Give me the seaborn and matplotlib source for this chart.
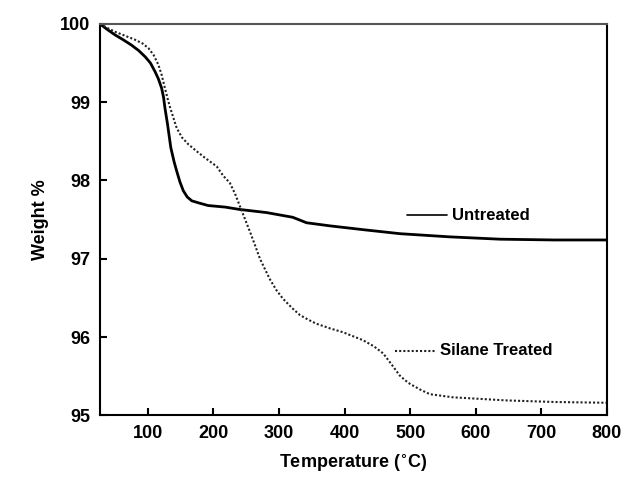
import matplotlib
matplotlib.use("Agg")
import matplotlib.pyplot as plt
import seaborn as sns
import pandas as pd

# Untreated sample (temperature °C, weight %)
untreated_temp = [27, 38, 50, 62, 75, 86, 96, 104, 111, 116, 121, 124, 126, 130, 135, 140, 144, 149, 154, 160, 167, 179, 192, 218, 240, 281, 321, 342, 378, 430, 485, 560, 637, 720, 800]
untreated_wt = [100.0, 99.93, 99.86, 99.8, 99.73, 99.66, 99.58, 99.5, 99.39, 99.3, 99.18, 99.06, 98.93, 98.72, 98.42, 98.24, 98.12, 97.98, 97.87, 97.79, 97.74, 97.71, 97.68, 97.66, 97.63, 97.59, 97.53, 97.46, 97.42, 97.37, 97.32, 97.28, 97.25, 97.24, 97.24]

# Silane treated sample
silane_temp = [27, 38, 50, 65, 80, 92, 101, 109, 116, 121, 126, 130, 134, 139, 144, 152, 162, 175, 187, 205, 215, 225, 233, 240, 248, 256, 264, 271, 279, 286, 296, 306, 320, 332, 345, 357, 378, 398, 428, 445, 459, 469, 477, 484, 492, 500, 515, 530, 565, 606, 647, 720, 800]
silane_wt = [100.0, 99.95, 99.9, 99.85, 99.8, 99.75, 99.69, 99.6, 99.48, 99.35, 99.18, 99.05, 98.93, 98.8, 98.67, 98.55, 98.46, 98.37, 98.29, 98.18, 98.06, 97.97, 97.83, 97.68, 97.51, 97.34, 97.16, 97.0, 96.86, 96.74, 96.6, 96.49, 96.37, 96.28, 96.22, 96.17, 96.11, 96.06, 95.96, 95.88, 95.79, 95.68, 95.59, 95.51, 95.45, 95.4, 95.33, 95.27, 95.23, 95.21, 95.19, 95.17, 95.16]

x_ticks = [100, 200, 300, 400, 500, 600, 700, 800]
y_ticks = [95, 96, 97, 98, 99, 100]

sns.set_theme(style="white")
plt.rcParams['font.family'] = ['Liberation Sans', 'DejaVu Sans']
plt.rcParams['font.weight'] = 'bold'
plt.rcParams['text.color'] = 'black'
plt.rcParams['axes.labelcolor'] = 'black'
plt.rcParams['xtick.color'] = 'black'
plt.rcParams['ytick.color'] = 'black'

df_u = pd.DataFrame({"Temperature": untreated_temp, "Weight": untreated_wt})
df_s = pd.DataFrame({"Temperature": silane_temp, "Weight": silane_wt})

fig = plt.figure(figsize=(6.23, 4.79), dpi=100)
ax = fig.add_axes([0.1605, 0.133, 0.8135, 0.817])

sns.lineplot(data=df_u, x="Temperature", y="Weight", ax=ax, color="black", linewidth=2.0, estimator=None, sort=True)
sns.lineplot(data=df_s, x="Temperature", y="Weight", ax=ax, color="#222222", linewidth=1.5, linestyle=(0, (1, 1.0)), estimator=None, sort=True)

ax.set_xlim(27, 800)
ax.set_ylim(95, 100)
ax.set_xticks(x_ticks)
ax.set_yticks(y_ticks)
ax.set_xticklabels([str(t) for t in x_ticks], fontsize=13, fontweight='bold')
ax.set_yticklabels([str(t) for t in y_ticks], fontsize=13, fontweight='bold')
ax.tick_params(axis='both', direction='in', length=5, width=1.5, colors='black', pad=7,
               bottom=True, left=True, top=False, right=False)
ax.set_xlabel("Temperature ($^{\\circ}$C)", fontsize=13, fontweight='bold', labelpad=8, color='black')
ax.set_ylabel("Weight %", fontsize=13, fontweight='bold', labelpad=8, color='black')

for s in ax.spines.values():
    s.set_visible(True)
    s.set_color("black")
    s.set_linewidth(1.5)
ax.spines['top'].set_color("#555555")

# legend-like labels
ax.plot([0.605, 0.684], [0.511, 0.511], transform=ax.transAxes, color="black", linewidth=1.2)
ax.text(0.695, 0.511, "Untreated", transform=ax.transAxes, fontsize=12, fontweight='bold', va='center', ha='left', color='black')
ax.plot([0.582, 0.661], [0.165, 0.165], transform=ax.transAxes, color="#222222", linewidth=1.5, linestyle=(0, (1, 1.0)))
ax.text(0.67, 0.165, "Silane Treated", transform=ax.transAxes, fontsize=12, fontweight='bold', va='center', ha='left', color='black')

fig.savefig("out.png", dpi=100)
